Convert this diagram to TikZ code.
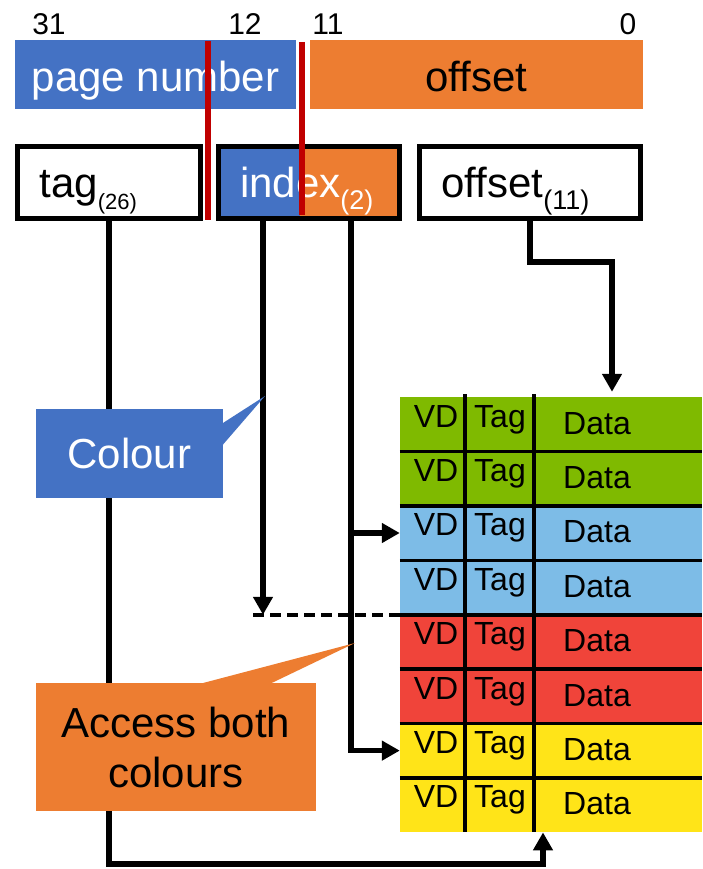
\documentclass[tikz,border=0pt]{standalone}
\usepackage{fontspec}
\setmainfont{Liberation Sans}
\usepackage{tikz}
\usetikzlibrary{arrows.meta}
\usetikzlibrary{positioning}
\definecolor{pageblue}{HTML}{4472C4}
\definecolor{offorange}{HTML}{ED7D31}
\definecolor{markred}{HTML}{C00000}
\definecolor{setgreen}{HTML}{7FBA00}
\definecolor{setblue}{HTML}{7DBCE7}
\definecolor{setred}{HTML}{F0443A}
\definecolor{setyellow}{HTML}{FFE418}
\newcommand{\fsize}[1]{\fontsize{#1}{#1}\selectfont}
\newcommand{\fieldsub}[2][27]{\raisebox{-12pt}{\fsize{#1}(#2)}}

\tikzset{
  bitnum/.style={font=\fsize{30}, anchor=base, inner sep=0pt},
  addrbar/.style={minimum width=#1, minimum height=69pt, inner sep=0pt, font=\fsize{42}, text height=35pt, text depth=0pt},
  field/.style={draw=black, line width=5pt, minimum height=72pt, inner xsep=22pt, inner ysep=0pt, align=left, text width=#1, font=\fsize{42}, text height=29pt, text depth=0pt},
  setrow/.style={minimum width=302pt, minimum height=54.4pt, inner sep=0pt},
  cell/.style={anchor=base, font=\fsize{32}, inner sep=0pt},
  gridline/.style={line width=3.5pt},
  conn/.style={line width=5.5pt},
  markline/.style={markred, line width=6pt},
  dashline/.style={line width=3.5pt, dash pattern=on 11pt off 6pt},
  note/.style={inner sep=0pt, align=center}
}

\begin{document}
\begin{tikzpicture}[x=1pt,y=-1pt,>={Triangle[length=18pt,width=19pt]}]
\useasboundingbox (0,0) rectangle (702,869);

% bit positions and the address
\foreach \n/\x in {31/49,12/245,11/328,0/628}
  \node[bitnum] (bit\n) at (\x,35) {\n};
\node[addrbar=281pt, fill=pageblue, text=white] (pagenum) at (155.5,74.5) {page number};
\node[addrbar=333pt, fill=offorange] (offbar) at (476.5,74.5) {offset};

% the cache: 4 sets of 2 ways
\foreach \c [count=\i from 0] in {setgreen,setgreen,setblue,setblue,setred,setred,setyellow,setyellow} {
  \pgfmathsetmacro{\rowtop}{397+54.4*\i}
  \node[setrow, fill=\c] (row\i) at (551,\rowtop+27.2) {};
  \node[cell] (vd\i) at (436,\rowtop+30) {VD};
  \node[cell] (tg\i) at (500,\rowtop+30) {Tag};
  \node[cell] (dt\i) at (597,\rowtop+37) {Data};
}
\foreach \i in {0,...,6}
  \draw[gridline] (row\i.south west) -- (row\i.south east);
\draw[gridline] (465,394) -- (465,832);
\draw[gridline] (534,394) -- (534,832);

% split of the address
\node[field=139pt] (tagbox) at (109,182.5) {tag\fieldsub[22]{26}};
\node[field=137pt, text=white, fill=offorange,
  path picture={\fill[pageblue] (path picture bounding box.north west) rectangle ([xshift=-99.5pt]path picture bounding box.south east);}]
  (idxbox) at (308.5,182.5) {index\fieldsub{2}};
\node[field=177pt] (offbox) at (530,182.5) {offset\fieldsub{11}};
\draw[markline] (208,41) -- (208,220);
\draw[markline] (302,42) -- (302,215);

% connectors
\coordinate (tagturn) at (543,864);
\coordinate (offturn) at (612,262);
\coordinate (colx) at (263,0);
\coordinate (setx) at (351,0);
\coordinate (dashl) at (253,0);
\draw[conn,->] (tagbox.south) |- (tagturn) -- (tagturn |- row7.south);
\draw[conn,->,shorten >=5pt] (offbox.south) |- (offturn) -- (offturn |- row0.north);
\draw[conn,->] (idxbox.south -| colx) -- (colx |- row3.south);
\draw[dashline] (dashl |- row3.south) -- (row3.south west);
\draw[conn,->] (idxbox.south -| setx) |- (row6.west);
\draw[conn,->] (setx |- row2.west) -- (row2.west);

% callouts
\coordinate (colourtip) at (265,396);
\coordinate (accesstip) at (355,643);
\node[note, fill=pageblue, text=white, font=\fsize{42}, minimum width=187pt, minimum height=89pt] (colour) at (129.5,453.5) {Colour};
\fill[pageblue] ([xshift=-1pt,yshift=30pt]colour.east) -- (colourtip) -- ([xshift=-1pt,yshift=8pt]colour.east) -- cycle;
\node[note, fill=offorange, font=\fontsize{42}{50}\selectfont, minimum width=280pt, minimum height=128pt] (access) at (176,747) {Access both\\colours};
\fill[offorange] ([xshift=24pt,yshift=-1pt]access.north) -- (accesstip) -- ([xshift=94pt,yshift=-1pt]access.north) -- cycle;
\end{tikzpicture}
\end{document}
